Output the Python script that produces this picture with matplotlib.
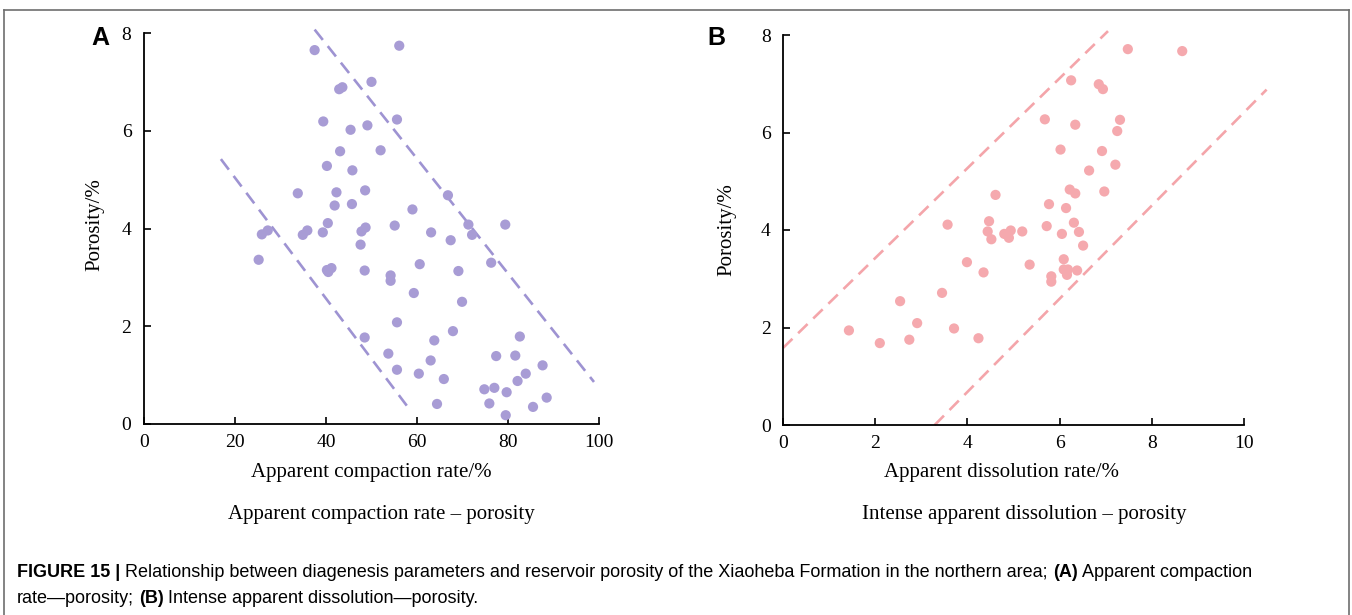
import matplotlib
matplotlib.use("Agg")
import matplotlib.pyplot as plt
from matplotlib.lines import Line2D

# ---------------- data ----------------
compaction_rate = [37.5, 56.1, 50.0, 42.9, 43.6, 39.4, 55.6, 45.4, 49.1, 43.1, 52.0, 40.2, 45.8,
                   33.8, 42.3, 48.6, 41.9, 45.7, 59.0, 66.8, 40.4, 55.1, 48.7, 47.8, 79.4, 71.3,
                   72.1, 63.1, 67.4, 39.3, 25.9, 27.2, 34.9, 35.9, 25.2, 47.6, 60.6, 40.2, 41.2,
                   40.5, 48.5, 69.1, 54.2, 54.2, 76.3, 59.3, 69.9, 55.6, 67.9, 48.5, 63.8, 82.6,
                   53.7, 77.4, 81.6, 63.0, 55.6, 60.4, 65.9, 83.9, 87.6, 82.1, 74.8, 77.0, 79.7,
                   88.5, 75.9, 64.4, 85.5, 79.5]
porosity_a = [7.65, 7.74, 7.00, 6.85, 6.89, 6.19, 6.23, 6.02, 6.11, 5.58, 5.60, 5.28, 5.19,
              4.72, 4.74, 4.78, 4.47, 4.50, 4.39, 4.68, 4.11, 4.06, 4.02, 3.94, 4.08, 4.08,
              3.87, 3.92, 3.76, 3.92, 3.88, 3.96, 3.87, 3.96, 3.36, 3.67, 3.27, 3.15, 3.19,
              3.11, 3.14, 3.13, 3.04, 2.93, 3.30, 2.68, 2.50, 2.08, 1.90, 1.77, 1.71, 1.79,
              1.44, 1.39, 1.40, 1.30, 1.11, 1.03, 0.92, 1.03, 1.20, 0.88, 0.71, 0.74, 0.65,
              0.54, 0.42, 0.41, 0.35, 0.18]
bound_a_upper_x = [37.5, 98.9]
bound_a_upper_y = [8.07, 0.86]
bound_a_lower_x = [16.9, 58.2]
bound_a_lower_y = [5.42, 0.32]

dissolution_rate = [1.43, 2.10, 2.54, 2.74, 2.91, 3.45, 3.57, 3.71, 3.99, 4.24, 4.35, 4.61, 4.47,
                    4.44, 4.52, 4.80, 4.90, 4.94, 5.19, 5.35, 5.68, 5.77, 5.72, 5.82, 5.82, 6.02,
                    6.05, 6.09, 6.09, 6.14, 6.18, 6.16, 6.22, 6.25, 6.31, 6.34, 6.34, 6.38, 6.42,
                    6.51, 6.64, 6.85, 6.94, 6.92, 6.97, 7.21, 7.25, 7.31, 7.48, 8.66]
porosity_b = [1.94, 1.68, 2.54, 1.75, 2.09, 2.71, 4.11, 1.98, 3.34, 1.78, 3.13, 4.72, 4.18,
              3.97, 3.81, 3.92, 3.84, 3.99, 3.97, 3.29, 6.27, 4.53, 4.08, 3.05, 2.94, 5.65,
              3.92, 3.40, 3.19, 4.45, 3.19, 3.08, 4.83, 7.07, 4.15, 6.16, 4.75, 3.17, 3.96,
              3.68, 5.22, 6.99, 6.89, 5.62, 4.79, 5.34, 6.03, 6.26, 7.71, 7.67]
bound_b_upper_x = [0.0, 7.05]
bound_b_upper_y = [1.58, 8.08]
bound_b_lower_x = [3.29, 10.49]
bound_b_lower_y = [0.0, 6.88]

xticks_a = [0, 20, 40, 60, 80, 100]
xticks_b = [0, 2, 4, 6, 8, 10]
yticks = [0, 2, 4, 6, 8]

# ---------------- figure ----------------
W, H = 1352, 615
fig = plt.figure(figsize=(W / 100, H / 100), dpi=100)

def fx(px):
    return px / W

def fy(py):
    return 1 - py / H

serif = "Liberation Serif"
sans = "Liberation Sans"
purple_pt = "#a89cd5"
purple_ln = "#9e93d2"
pink_pt = "#f5a9ae"
pink_ln = "#f4a5aa"

def style_axes(ax, xticks, xlim):
    for s in ["top", "right"]:
        ax.spines[s].set_visible(False)
    for s in ["left", "bottom"]:
        ax.spines[s].set_linewidth(1.3)
        ax.spines[s].set_color("black")
    ax.set_xlim(*xlim)
    ax.set_ylim(0, 8)
    ax.set_xticks(xticks)
    ax.set_yticks(yticks)
    ax.tick_params(direction="in", length=5, width=1.2, labelsize=14, pad=7)
    ax.tick_params(axis="y", pad=9)
    for lab in ax.get_xticklabels() + ax.get_yticklabels():
        lab.set_fontfamily(serif)

# Panel A
axA = fig.add_axes([fx(144), fy(424), fx(599 - 144), (424 - 33) / H])
style_axes(axA, xticks_a, (0, 100))
axA.plot(bound_a_upper_x, bound_a_upper_y, color=purple_ln, lw=1.9,
         linestyle=(0, (5, 3)), clip_on=False)
axA.plot(bound_a_lower_x, bound_a_lower_y, color=purple_ln, lw=1.9,
         linestyle=(0, (5, 3)), clip_on=False)
axA.scatter(compaction_rate, porosity_a, s=54, color=purple_pt, edgecolors="none",
            zorder=3, clip_on=False)

# Panel B
axB = fig.add_axes([fx(783), fy(425), fx(1244 - 783), (425 - 35) / H])
style_axes(axB, xticks_b, (0, 10))
axB.plot(bound_b_upper_x, bound_b_upper_y, color=pink_ln, lw=1.9,
         linestyle=(0, (5, 3)), clip_on=False)
axB.plot(bound_b_lower_x, bound_b_lower_y, color=pink_ln, lw=1.9,
         linestyle=(0, (5, 3)), clip_on=False)
axB.scatter(dissolution_rate, porosity_b, s=54, color=pink_pt, edgecolors="none",
            zorder=3, clip_on=False)

# axis labels & subtitles
fig.text(fx(371), fy(473), "Apparent compaction rate/%", family=serif, fontsize=15,
         ha="center", va="center")
fig.text(fx(381), fy(514), "Apparent compaction rate \u2013 porosity", family=serif,
         fontsize=15, ha="center", va="center")
fig.text(fx(1001), fy(473), "Apparent dissolution rate/%", family=serif, fontsize=15,
         ha="center", va="center")
fig.text(fx(1024), fy(514), "Intense apparent dissolution \u2013 porosity", family=serif,
         fontsize=15, ha="center", va="center")
fig.text(fx(95), fy(225), "Porosity/%", family=serif, fontsize=15, rotation=90,
         ha="center", va="center")
fig.text(fx(727), fy(230), "Porosity/%", family=serif, fontsize=15, rotation=90,
         ha="center", va="center")

# panel letters
fig.text(fx(100), fy(38), "A", family=sans, fontsize=18, fontweight="bold",
         ha="center", va="center")
fig.text(fx(716), fy(38), "B", family=sans, fontsize=18, fontweight="bold",
         ha="center", va="center")

# caption
cap_size = 13
fig.canvas.draw()
r = fig.canvas.get_renderer()

def run(parts, x0, ybase):
    x = x0
    for txt, bold, gap in parts:
        t = fig.text(x / W, fy(ybase), txt, family=sans, fontsize=cap_size,
                     fontweight="bold" if bold else "normal", ha="left", va="baseline")
        bb = t.get_window_extent(r)
        x = bb.x1 + gap

run([("FIGURE 15 |", True, 5),
     ("Relationship between diagenesis parameters and reservoir porosity of the Xiaoheba "
      "Formation in the northern area;", False, 5),
     ("(A)", True, 4),
     ("Apparent compaction", False, 0)], 17, 577)
run([("rate\u2014porosity;", False, 5),
     ("(B)", True, 4),
     ("Intense apparent dissolution\u2014porosity.", False, 0)], 17, 603)

# outer frame (open at bottom)
frame_col = "#6e6e6e"
fig.add_artist(Line2D([fx(4), fx(4)], [fy(9.5), 0], transform=fig.transFigure,
                      color=frame_col, lw=1.2))
fig.add_artist(Line2D([fx(1349), fx(1349)], [fy(9.5), 0], transform=fig.transFigure,
                      color=frame_col, lw=1.2))
fig.add_artist(Line2D([fx(4), fx(1349)], [fy(9.5), fy(9.5)], transform=fig.transFigure,
                      color=frame_col, lw=1.2))

fig.savefig("out.png", dpi=100)
